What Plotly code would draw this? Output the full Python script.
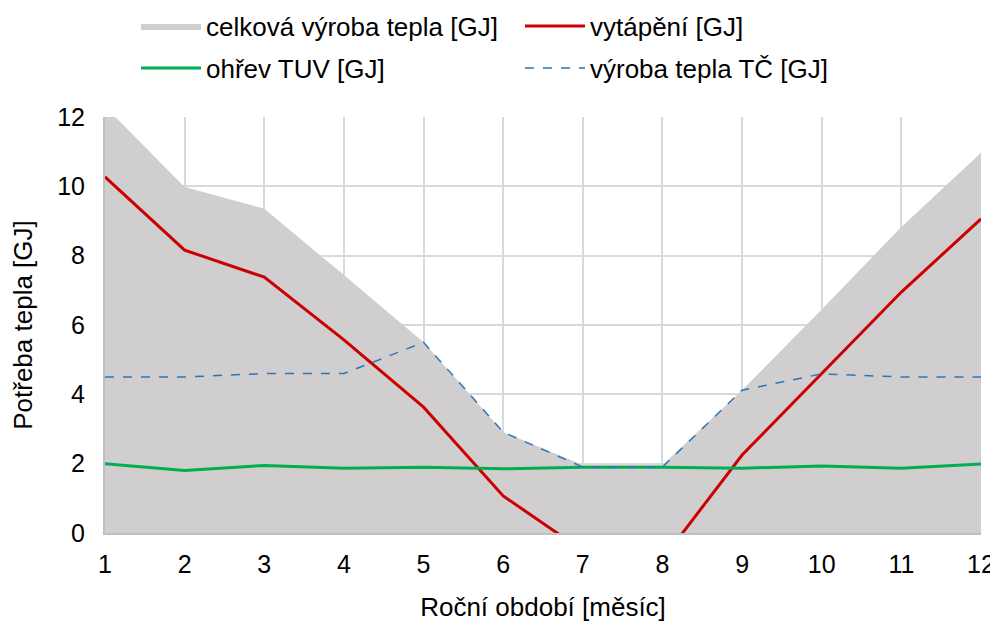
import plotly.graph_objects as go

months = [1, 2, 3, 4, 5, 6, 7, 8, 9, 10, 11, 12]
celkova = [12.3, 9.98, 9.35, 7.44, 5.5, 2.91, 1.96, 1.96, 4.12, 6.45, 8.83, 10.97]
vytapeni = [10.27, 8.16, 7.38, 5.57, 3.63, 1.07, -0.51, -0.76, 2.25, 4.6, 6.95, 9.06]
ohrev_tuv = [2.0, 1.8, 1.95, 1.87, 1.9, 1.85, 1.9, 1.9, 1.87, 1.93, 1.87, 1.99]
vyroba_tc = [4.5, 4.5, 4.6, 4.6, 5.5, 2.91, 1.9, 1.9, 4.12, 4.59, 4.5, 4.5]

y_ticks = [0, 2, 4, 6, 8, 10, 12]

FONT = "Liberation Sans, Arial, sans-serif"

# the page body adds an 8px offset; the figure is sized to fill the rest of the window
W, H = 990, 614

fig = go.Figure()
fig.add_trace(go.Scatter(x=months, y=celkova, name="celková výroba tepla [GJ]",
                         mode="lines", fill="tozeroy", fillcolor="#D0CECE",
                         line=dict(width=0, color="#D0CECE"), legend="legend"))
fig.add_trace(go.Scatter(x=months, y=vytapeni, name="vytápění [GJ]", mode="lines",
                         line=dict(color="#CC0000", width=3), legend="legend"))
fig.add_trace(go.Scatter(x=months, y=ohrev_tuv, name="ohřev TUV [GJ]", mode="lines",
                         line=dict(color="#00B050", width=3), legend="legend2"))
fig.add_trace(go.Scatter(x=months, y=vyroba_tc, name="výroba tepla TČ [GJ]", mode="lines",
                         line=dict(color="#2E75B6", width=1.5, dash="dash"), legend="legend2"))

leg_common = dict(orientation="h", xref="container", yref="container",
                  xanchor="left", yanchor="middle", entrywidth=309, entrywidthmode="pixels",
                  font=dict(family=FONT, size=26, color="#000"), bgcolor="rgba(0,0,0,0)",
                  itemwidth=60, traceorder="normal")

fig.update_layout(
    width=W, height=H,
    margin=dict(l=97, r=17, t=109, b=89, autoexpand=False),
    paper_bgcolor="white", plot_bgcolor="white",
    font=dict(family=FONT, size=26, color="#000"),
    legend=dict(x=128 / W, y=1 - 18 / H, **leg_common),
    legend2=dict(x=128 / W, y=1 - 60 / H, **leg_common),
    xaxis=dict(range=[1, 12], tickmode="array", tickvals=months,
               showgrid=True, gridcolor="#D9D9D9", gridwidth=2,
               showline=True, linecolor="#BFBFBF", linewidth=2,
               ticks="", tickfont=dict(size=25), zeroline=False, automargin=False,
               ticklabelstandoff=8,
               title=dict(text="Roční období [měsíc]", font=dict(size=26), standoff=25)),
    yaxis=dict(range=[0, 12], tickmode="array", tickvals=y_ticks,
               showgrid=True, gridcolor="#D9D9D9", gridwidth=2,
               showline=True, linecolor="#BFBFBF", linewidth=2,
               ticks="", tickfont=dict(size=25), zeroline=False, automargin=False,
               ticklabelstandoff=13,
               title=dict(text="Potřeba tepla [GJ]", font=dict(size=26), standoff=19)),
)

fig.write_html("out.html")
